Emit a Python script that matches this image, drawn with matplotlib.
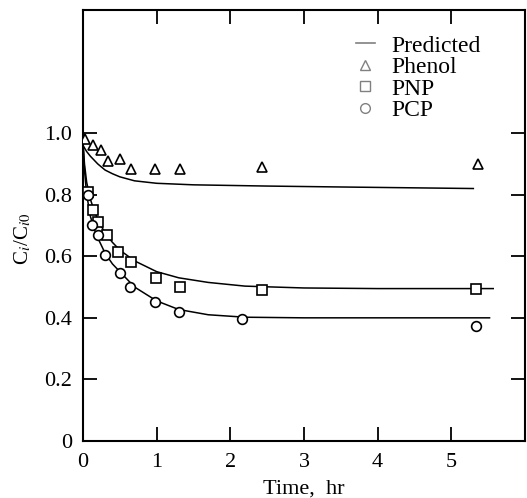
import matplotlib
matplotlib.use("Agg")
import matplotlib.pyplot as plt
from matplotlib.lines import Line2D

plt.rcParams['font.family'] = ['Liberation Serif', 'DejaVu Serif']
plt.rcParams['mathtext.fontset'] = 'stix'

# ---- measured points ----
phenol_t = [0.03, 0.14, 0.24, 0.34, 0.50, 0.65, 0.98, 1.32, 2.43, 5.36]
phenol_c = [0.98, 0.96, 0.945, 0.91, 0.915, 0.885, 0.885, 0.885, 0.89, 0.90]

pnp_t = [0.07, 0.14, 0.21, 0.33, 0.48, 0.65, 0.99, 1.32, 2.43, 5.34]
pnp_c = [0.81, 0.75, 0.71, 0.67, 0.615, 0.58, 0.53, 0.50, 0.49, 0.495]

pcp_t = [0.07, 0.12, 0.20, 0.30, 0.50, 0.64, 0.98, 1.30, 2.16, 5.34]
pcp_c = [0.80, 0.70, 0.67, 0.605, 0.545, 0.50, 0.45, 0.42, 0.395, 0.375]

# ---- predicted curves ----
phenol_pt = [0, 0.05, 0.1, 0.2, 0.3, 0.4, 0.5, 0.7, 1.0, 1.5, 2.5, 3.5, 5.3]
phenol_pc = [0.96, 0.94, 0.925, 0.90, 0.88, 0.868, 0.858, 0.845, 0.837, 0.832, 0.828, 0.825, 0.82]

pnp_pt = [0, 0.02, 0.05, 0.1, 0.15, 0.2, 0.3, 0.4, 0.5, 0.7, 1.0, 1.3, 1.7, 2.2, 3.0, 4.0, 5.57]
pnp_pc = [0.97, 0.90, 0.84, 0.785, 0.75, 0.72, 0.675, 0.645, 0.62, 0.585, 0.55, 0.53, 0.515, 0.503, 0.497, 0.495, 0.495]

pcp_pt = [0, 0.02, 0.05, 0.1, 0.15, 0.2, 0.3, 0.4, 0.5, 0.7, 1.0, 1.3, 1.7, 2.2, 3.0, 4.0, 5.52]
pcp_pc = [0.97, 0.88, 0.80, 0.73, 0.69, 0.66, 0.61, 0.575, 0.55, 0.50, 0.455, 0.427, 0.41, 0.402, 0.40, 0.40, 0.40]

xticks = [0, 1, 2, 3, 4, 5]
yticks = [0, 0.2, 0.4, 0.6, 0.8, 1.0]
ytick_labels = ["0", "0.2", "0.4", "0.6", "0.8", "1.0"]
legend_labels = ["Predicted", "Phenol", "PNP", "PCP"]

fig = plt.figure(figsize=(5.27, 4.98), dpi=100)
ax = fig.add_axes([0.1575, 0.1145, 0.8385, 0.8655])

lw = 1.1
for t, c in [(phenol_pt, phenol_pc), (pnp_pt, pnp_pc), (pcp_pt, pcp_pc)]:
    ax.plot(t, c, color="black", lw=lw, zorder=2)

mk = dict(linestyle="none", mfc="white", mec="black", mew=1.2, ms=7, zorder=3)
ax.plot(phenol_t, phenol_c, marker="^", **mk)
ax.plot(pnp_t, pnp_c, marker="s", **mk)
ax.plot(pcp_t, pcp_c, marker="o", **mk)

ax.set_xlim(0, 6)
ax.set_ylim(0, 1.4)
ax.set_xticks(xticks)
ax.set_yticks(yticks)
ax.set_yticklabels(ytick_labels)
ax.tick_params(direction="in", length=10, width=1.3, labelsize=16, pad=8,
               top=True, right=True)
ax.tick_params(axis="x", pad=9)
for s in ax.spines.values():
    s.set_linewidth(1.5)

# no tick marks at the origin
for tick in ax.xaxis.get_major_ticks()[:1] + ax.yaxis.get_major_ticks()[:1]:
    tick.tick1line.set_visible(False)
    tick.tick2line.set_visible(False)

ax.set_xlabel("Time,  hr", fontsize=16, labelpad=5)
ax.set_ylabel(r"C$_i$/C$_{i0}$", fontsize=15)
ax.yaxis.set_label_coords(-0.113, 0.47)

hk = dict(linestyle="none", mfc="white", mec="gray", mew=1.0, ms=7)
handles = [
    Line2D([], [], color="gray", lw=1.2),
    Line2D([], [], marker="^", **hk),
    Line2D([], [], marker="s", **hk),
    Line2D([], [], marker="o", **hk),
]
ax.legend(handles, legend_labels, loc="upper left",
          bbox_to_anchor=(0.58, 0.98), frameon=False, fontsize=17,
          handlelength=0.8, handletextpad=0.7, labelspacing=0.0,
          borderpad=0.2)

fig.savefig("out.png", dpi=100)
